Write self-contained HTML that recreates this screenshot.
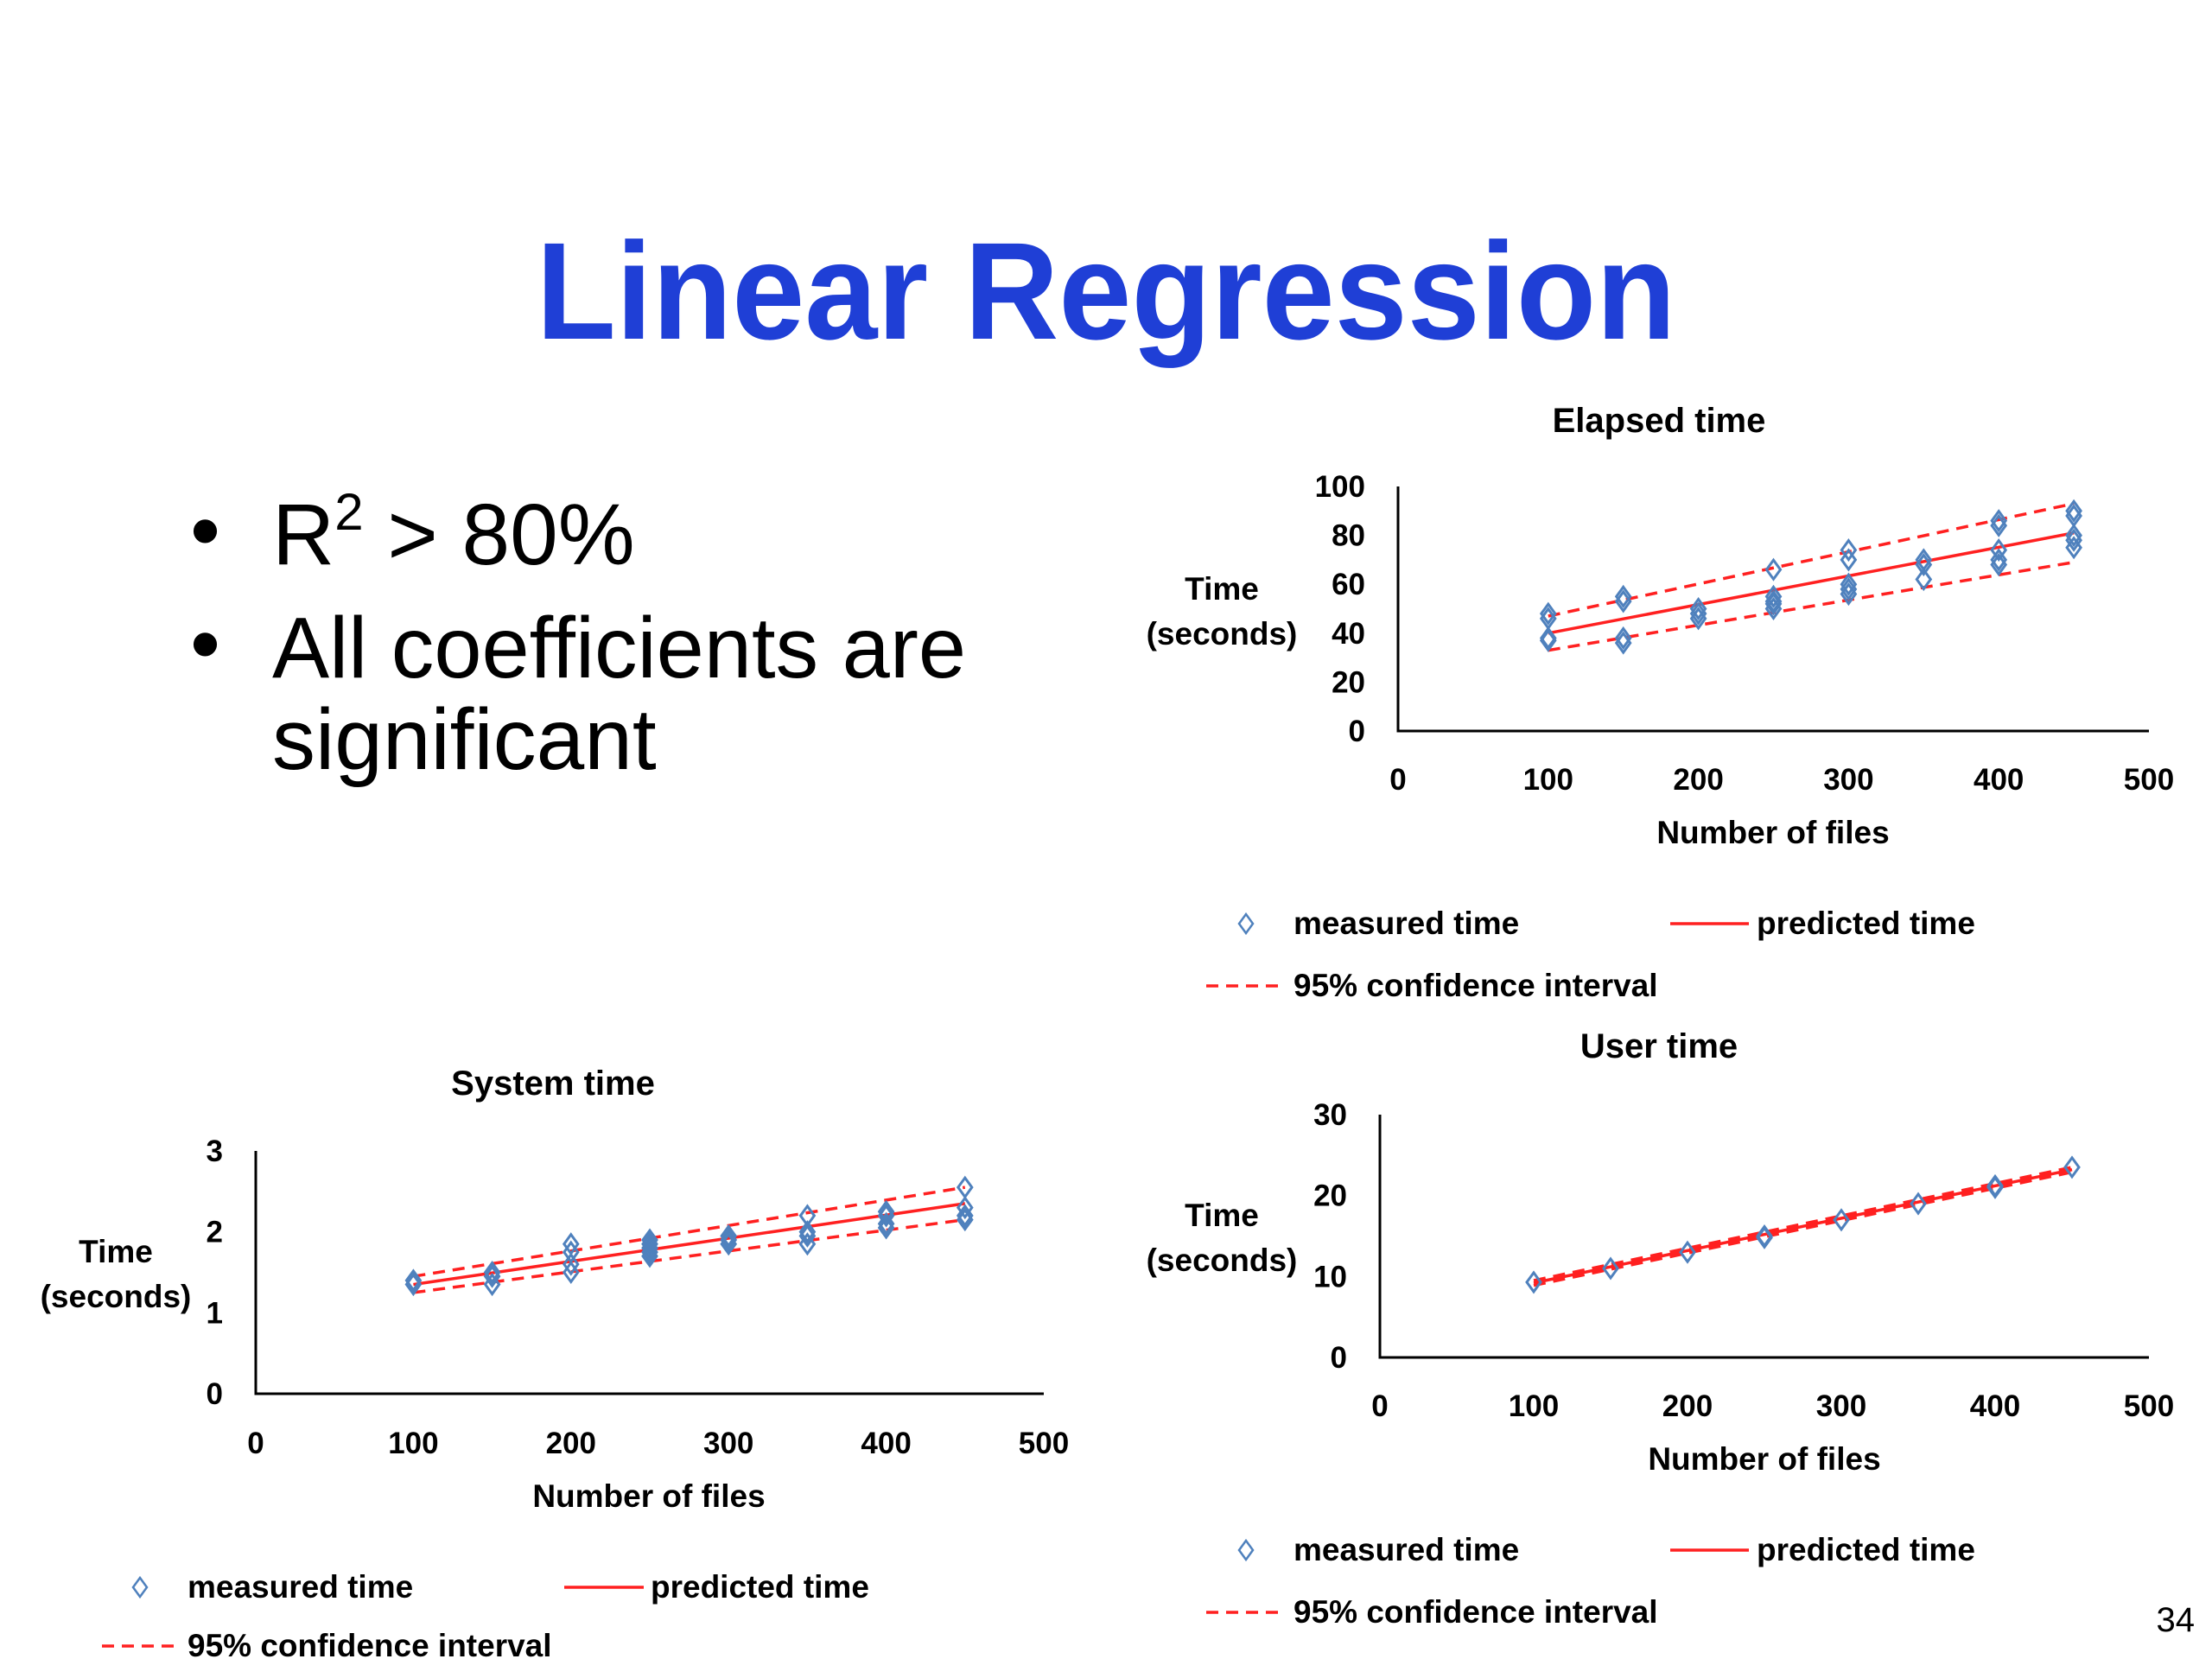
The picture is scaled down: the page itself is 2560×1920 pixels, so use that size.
<!DOCTYPE html>
<html><head><meta charset="utf-8">
<style>
html,body{margin:0;padding:0;background:#fff}
svg{display:block}
text{font-family:"Liberation Sans",sans-serif}
</style></head>
<body>
<svg id="root" width="2560" height="1920" viewBox="0 0 2560 1920" xmlns="http://www.w3.org/2000/svg">
<text x="1280" y="392" text-anchor="middle" font-size="160" font-weight="bold" fill="#1f3fd6" textLength="1319" lengthAdjust="spacingAndGlyphs">Linear Regression</text>
<g font-size="100" fill="#000">
<text x="220" y="648">•</text>
<text x="315" y="653">R<tspan font-size="60" dy="-40">2</tspan><tspan dy="40"> &gt; 80%</tspan></text>
<text x="220" y="779">•</text>
<text x="315" y="784" textLength="803" lengthAdjust="spacingAndGlyphs">All coefficients are</text>
<text x="315" y="890">significant</text>
</g>
<text x="2540" y="1888" text-anchor="end" font-size="40" fill="#000">34</text>
</svg>
<script>
// Elapsed time data
const elapsedX = [100,100,100,100,150,150,150,150,200,200,200,250,250,250,250,250,300,300,300,300,300,350,350,350,400,400,400,400,400,450,450,450,450,450];
const elapsedY = [48,46,38,37,55,53,38,36,50,48,46,66,55,53,52,50,74,70,60,58,56,70,68,62,86,84,74,70,68,90,88,80,78,75];
const elapsedPred = [40,81];
const elapsedUpper = [47,93];
const elapsedLower = [33,69];
const elapsedYTicks = [0,20,40,60,80,100];
// System time data
const systemX = [100,100,150,150,150,200,200,200,200,250,250,250,250,250,300,300,300,350,350,350,350,400,400,400,400,450,450,450,450];
const systemY = [1.4,1.35,1.5,1.45,1.35,1.85,1.75,1.6,1.5,1.9,1.85,1.8,1.75,1.7,1.95,1.9,1.85,2.2,2.0,1.95,1.85,2.25,2.2,2.1,2.05,2.55,2.3,2.2,2.15];
const systemPred = [1.35,2.35];
const systemUpper = [1.45,2.55];
const systemLower = [1.25,2.15];
const systemYTicks = [0,1,2,3];
// User time data
const userX = [100,150,200,250,250,300,350,400,400,450];
const userY = [9.3,11,13,15,14.8,17,19,21.2,21,23.5];
const userPred = [9.2,23.2];
const userUpper = [9.5,23.5];
const userLower = [8.9,22.9];
const userYTicks = [0,10,20,30];
const xTicks = [0,100,200,300,400,500];
const lineEnds = [100,450];

const NS = "http://www.w3.org/2000/svg";
const root = document.getElementById('root');
function mk(tag, attrs, parent){const e=document.createElementNS(NS,tag);for(const k in attrs)e.setAttribute(k,attrs[k]);(parent||root).appendChild(e);return e;}
function txt(s, attrs, parent){const e=mk('text',attrs,parent);e.textContent=s;return e;}

function chart(c){
  const g = mk('g',{});
  
  
  const sx = v => c.x0 + (v/500)*(c.x1-c.x0);
  const sy = v => c.y0 - (v/c.ymax)*(c.y0-c.y1);
  const t = txt(c.title,{x:c.tx,y:c.ty,'text-anchor':'middle','font-size':40,'font-weight':'bold'},g);
  
  
  const ax = mk('path',{d:`M${c.x0} ${sy(c.ymax)} V${c.y0} H${c.x1}`,stroke:'#000','stroke-width':3,fill:'none'},g);
  
  
  c.yt.forEach(v=>{
    const e = txt(String(v),{x:c.x0-38,y:sy(v)+12,'text-anchor':'end','font-size':35,'font-weight':'bold'},g);
    
    
  });
  xTicks.forEach(v=>{
    const e = txt(String(v),{x:sx(v),y:c.xly,'text-anchor':'middle','font-size':35,'font-weight':'bold'},g);
    
    
  });
  const xt = txt('Number of files',{x:c.xtx,y:c.xty,'text-anchor':'middle','font-size':37,'font-weight':'bold'},g);
  
  
  const yt1 = txt('Time',{x:c.ytx,y:c.yty,'text-anchor':'middle','font-size':37,'font-weight':'bold'},g);
  
  
  const yt2 = txt('(seconds)',{x:c.ytx,y:c.yty+52,'text-anchor':'middle','font-size':37,'font-weight':'bold'},g);
  
  
  [[c.up,'upper'],[c.lo,'lower']].forEach(([arr,n])=>{
    const l = mk('line',{x1:sx(lineEnds[0]),y1:sy(arr[0]),x2:sx(lineEnds[1]),y2:sy(arr[1]),stroke:'#ff2020','stroke-width':3.5,'stroke-dasharray':'14 9'},g);
    
    
  });
  const pl = mk('line',{x1:sx(lineEnds[0]),y1:sy(c.pred[0]),x2:sx(lineEnds[1]),y2:sy(c.pred[1]),stroke:'#ff2020','stroke-width':3.5},g);
  
  
  c.xs.forEach((xv,i)=>{
    const px=sx(xv), py=sy(c.ys[i]);
    const d = mk('path',{d:`M${px} ${py-11} L${px+8} ${py} L${px} ${py+11} L${px-8} ${py} Z`,fill:'none',stroke:'#4f81bd','stroke-width':3},g);
    
    
  });
  // legend
  const L = c.leg;
  const ld = mk('path',{d:`M${L.dx} ${L.r1-11} L${L.dx+8} ${L.r1} L${L.dx} ${L.r1+11} L${L.dx-8} ${L.r1} Z`,fill:'none',stroke:'#4f81bd','stroke-width':2.5},g);
  
  
  const lt1 = txt('measured time',{x:L.tx,y:L.r1+12,'font-size':37,'font-weight':'bold'},g);
  
  
  const ll = mk('line',{x1:L.lx1,y1:L.r1,x2:L.lx2,y2:L.r1,stroke:'#ff2020','stroke-width':3.5},g);
  
  
  const lt2 = txt('predicted time',{x:L.px,y:L.r1+12,'font-size':37,'font-weight':'bold'},g);
  
  
  const dl = mk('line',{x1:L.cx1,y1:L.r2,x2:L.cx2,y2:L.r2,stroke:'#ff2020','stroke-width':3.5,'stroke-dasharray':'14 9'},g);
  
  
  const lt3 = txt('95% confidence interval',{x:L.tx,y:L.r2+12,'font-size':37,'font-weight':'bold'},g);
  
  
}

chart({name:'elapsed',title:'Elapsed time',tx:1920,ty:500,x0:1618,x1:2487,y0:846,y1:563,ymax:100,yt:elapsedYTicks,xly:914,xtx:2052,xty:976,ytx:1414,yty:694,
  xs:elapsedX,ys:elapsedY,pred:elapsedPred,up:elapsedUpper,lo:elapsedLower,
  leg:{dx:1442,tx:1497,r1:1069,r2:1141,lx1:1933,lx2:2024,px:2033,cx1:1396,cx2:1483}});
chart({name:'user',title:'User time',tx:1920,ty:1224,x0:1597,x1:2487,y0:1571,y1:1290,ymax:30,yt:userYTicks,xly:1639,xtx:2042,xty:1701,ytx:1414,yty:1419,
  xs:userX,ys:userY,pred:userPred,up:userUpper,lo:userLower,
  leg:{dx:1442,tx:1497,r1:1794,r2:1866,lx1:1933,lx2:2024,px:2033,cx1:1396,cx2:1483}});
chart({name:'system',title:'System time',tx:640,ty:1267,x0:296,x1:1208,y0:1613,y1:1332,ymax:3,yt:systemYTicks,xly:1682,xtx:751,xty:1744,ytx:134,yty:1461,
  xs:systemX,ys:systemY,pred:systemPred,up:systemUpper,lo:systemLower,
  leg:{dx:162,tx:217,r1:1837,r2:1905,lx1:653,lx2:745,px:753,cx1:118,cx2:204}});
</script>
</body></html>
